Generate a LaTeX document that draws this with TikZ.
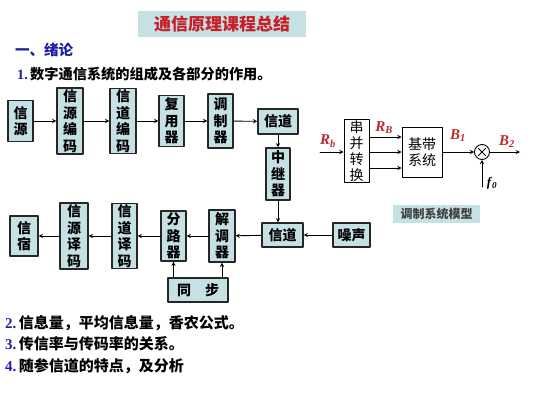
\documentclass[tikz,border=0pt]{standalone}
\usepackage{fontspec}
\setmainfont{Liberation Serif}
\newfontfamily\cjk{Noto Sans CJK SC}
\usetikzlibrary{positioning}
\definecolor{boxfill}{RGB}{198,225,228}
\definecolor{titlered}{RGB}{200,30,40}
\definecolor{numblue}{RGB}{30,30,170}
\definecolor{lblred}{RGB}{190,40,45}
\newcommand{\sym}[2]{\textit{#1}\textsubscript{\textit{#2}}}
\begin{document}
\begin{tikzpicture}[x=1pt, y=-1pt, line cap=round, line join=round, >=stealth,
	blk/.style={draw=black!85, line width=1.3pt, fill=boxfill, inner sep=0.5pt, align=center, font=\cjk\bfseries\fontsize{14}{16.5}\selectfont},
	mblk/.style={draw, line width=0.9pt, fill=white, inner sep=1pt, align=center, font=\cjk\fontsize{14}{16}\selectfont},
	flow/.style={->, line width=0.9pt},
	lbl/.style={font=\rmfamily\bfseries\fontsize{15}{15}\selectfont, text=lblred},
	txt/.style={anchor=west, inner sep=0pt, font=\cjk\bfseries\fontsize{15}{15}\selectfont}]
	\useasboundingbox[fill=white] (0,0) rectangle (533,400);
	\node[fill=boxfill, minimum width=168pt, minimum height=26pt, text=titlered, font=\cjk\bfseries\fontsize{17}{17}\selectfont] (title) at (222,24) {通信原理课程总结};
	\node[txt, text=numblue, font=\cjk\bfseries\fontsize{14.5}{14.5}\selectfont] (sec) at (15,50) {一、绪论};
	\node[txt, font=\cjk\bfseries\fontsize{14.2}{14.2}\selectfont] (q1) at (17,74) {\textcolor{numblue}{\textrm{1.}}\,数字通信系统的组成及各部分的作用。};
	\foreach \k/\py/\txt in {2/323/{信息量，平均信息量，香农公式。}, 3/344/{传信率与传码率的关系。}, 4/366/{随参信道的特点，及分析}}
	\node[txt] (q\k) at (5,\py) {\textcolor{numblue}{\textrm{\k.}}\,\txt};
	\foreach \nm/\px/\py/\w/\h/\txt in {src/20.5/121/25/41/{信\\源}, srcenc/70/121/26/66/{信\\源\\编\\码}, chenc/123/121/26/65/{信\\道\\编\\码}, mux/171.5/121/25/51/{复\\用\\器}, mod/220.5/121/25/54/{调\\制\\器}, chtop/278/121.5/40/25/{信道}, rep/278/174/24/52/{中\\继\\器}, sink/24/236/28/40/{信\\宿}, srcdec/74/236/28/66/{信\\源\\译\\码}, chdec/124.5/236/25/65/{信\\道\\译\\码}, demux/173.5/236/25/50/{分\\路\\器}, demod/222/236/26/52/{解\\调\\器}, chbot/282.5/235/41/24/{信道}, noise/351.5/235/37/24/{噪声}, sync/198/290/60/24/{同\quad 步}}
	\node[blk, minimum width=\w pt, minimum height=\h pt] (\nm) at (\px,\py) {\txt};
	\foreach \a/\b in {src/srcenc, srcenc/chenc, chenc/mux, mux/mod, mod/chtop, chtop/rep, noise/chbot, chbot/demod, demod/demux, demux/chdec, chdec/srcdec, srcdec/sink}
	\draw[flow] (\a) -- (\b);
	\draw[flow] (rep.south) -- (rep.south |- chbot.north);
	\draw[flow] (sync.north -| demux) -- (demux.south);
	\draw[flow] (sync.north -| demod) -- (demod.south);
	\begin{scope}[line width=0.9pt]
		\node[mblk, minimum width=25pt, minimum height=59pt] (sp) at (356.5,151) {串\\并\\转\\换};
		\node[mblk, minimum width=40pt, minimum height=50pt] (bb) at (422,152) {基带\\系统};
		\node[draw, circle, minimum size=15pt, inner sep=0pt] (mul) at (482,152) {};
		\draw ([shift={(-3.5,-3.5)}]mul.center) -- ([shift={(3.5,3.5)}]mul.center) ([shift={(3.5,-3.5)}]mul.center) -- ([shift={(-3.5,3.5)}]mul.center);
		\coordinate (rbin) at (320,152);
		\coordinate (b2end) at (520,152);
		\coordinate (f0) at (482,187);
		\draw[flow] (rbin) -- (rbin -| sp.west);
		\foreach \dy in {15,0,-16}
		\draw[flow] ([yshift=\dy pt]sp.east |- mul) -- ([yshift=\dy pt]bb.west |- mul);
		\draw[flow] (bb) -- (mul);
		\draw[flow] (mul) -- (b2end);
		\draw[flow] (f0) -- (mul);
		\node[lbl] (rb) at (328,141) {\sym{R}{b}};
		\node[lbl] (rbb) at (384,128) {\sym{R}{B}};
		\node[lbl] (b1) at (458,136) {\sym{B}{1}};
		\node[lbl] (b2) at (507,142) {\sym{B}{2}};
		\node[lbl, text=black, font=\rmfamily\bfseries\fontsize{13}{13}\selectfont] (f0lbl) at (492,183) {\sym{f}{0}};
	\end{scope}
	\node[fill=boxfill, minimum width=87pt, minimum height=18pt, text=black!75, font=\cjk\bfseries\fontsize{12}{12}\selectfont] (model) at (436.5,214) {调制系统模型};
\end{tikzpicture}
\end{document}
